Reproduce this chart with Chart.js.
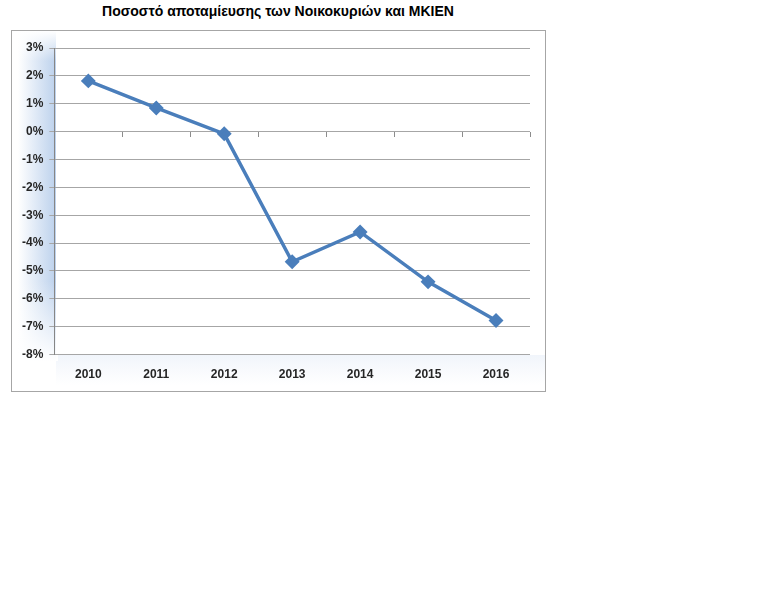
<!DOCTYPE html>
<html>
<head>
<meta charset="utf-8">
<script src="https://cdn.jsdelivr.net/npm/chart.js@4/dist/chart.umd.min.js"></script>
<style>
  body { margin: 0; background: #fff; width: 768px; height: 614px; position: relative; }
  #title {
    position: absolute; left: 0; top: 3px; width: 556px; text-align: center;
    font: bold 14px "Liberation Sans", Arial, sans-serif; color: #000;
  }
  #box {
    position: absolute; left: 11px; top: 30px; width: 533px; height: 360px;
    border: 1px solid #a6a6a6;
    background:
      linear-gradient(to bottom, rgba(255,255,255,0) 0, #fff 100%) 6px 250px / 40px 80px no-repeat,
      linear-gradient(to bottom, #fff 0, rgba(255,255,255,0) 100%) 6px 0 / 40px 30px no-repeat,
      linear-gradient(to right, rgba(190,210,236,0) 0, #bcd1ec 100%) 6px 0 / 38px 330px no-repeat,
      linear-gradient(to bottom, #f1f5fb 0, rgba(241,245,251,0) 100%) 44px 324px / 490px 30px no-repeat,
      #fff;
  }
</style>
</head>
<body>
<div id="title">Ποσοστό αποταμίευσης των Νοικοκυριών και ΜΚΙΕΝ</div>
<div id="box"><canvas id="savingsChart"></canvas></div>
<script>
var years = ['2010', '2011', '2012', '2013', '2014', '2015', '2016'];
var savingRate = [1.82, 0.85, -0.08, -4.67, -3.6, -5.39, -6.78];
var yMin = -8;
var yMax = 3;

var tickFont = { family: '"Liberation Sans", Arial, sans-serif', size: 12, weight: 'bold' };

var ctx = document.getElementById('savingsChart');
var myChart = new Chart(ctx, {
  type: 'line',
  data: {
    labels: years,
    datasets: [{
      label: 'Ποσοστό αποταμίευσης',
      data: savingRate,
      borderColor: '#4a7ebb',
      backgroundColor: '#4a7ebb',
      borderWidth: 3.5,
      pointStyle: 'rectRot',
      pointRadius: 5,
      pointHoverRadius: 5,
      tension: 0
    }]
  },
  options: {
    responsive: true,
    maintainAspectRatio: false,
    animation: false,
    layout: { padding: { top: 17, right: 15, bottom: 4, left: 4 } },
    plugins: {
      legend: { display: false },
      tooltip: { enabled: false }
    },
    scales: {
      x: {
        offset: true,
        grid: { display: false },
        border: { display: false },
        ticks: { font: tickFont, color: '#262626', padding: 5 }
      },
      x0: {
        position: { y: 0 },
        offset: true,
        labels: years,
        grid: { display: true, offset: true, drawOnChartArea: false, drawTicks: true, tickLength: 5, color: '#8c8c8c' },
        border: { display: false },
        ticks: { display: false }
      },
      y: {
        min: yMin,
        max: yMax,
        grid: { color: '#a6a6a6', tickLength: 5 },
        border: { color: '#868686' },
        ticks: {
          stepSize: 1,
          font: tickFont,
          color: '#262626',
          padding: 6,
          callback: function (v) { return v + '%'; }
        }
      }
    }
  }
});
</script>
</body>
</html>
